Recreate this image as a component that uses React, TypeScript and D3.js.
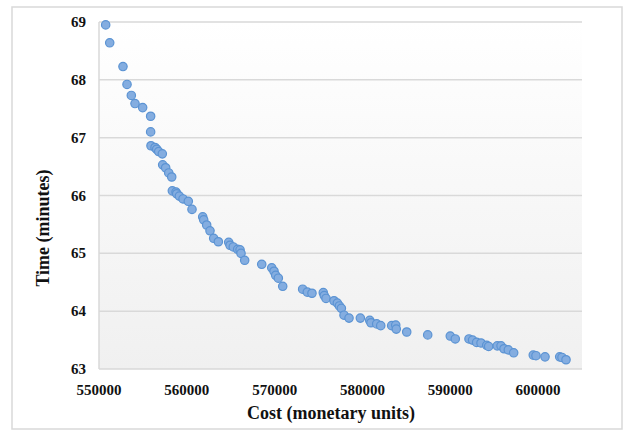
import * as d3 from 'd3';

// cost (monetary units) and time (minutes) for each solution
const costs = [
  550760, 551220, 552730, 553190, 553680, 554100, 554970, 555880, 555880, 555920,
  556380, 556570, 556800, 557210, 557250, 557590, 557940, 558280, 558350, 558770,
  558850, 559150, 559570, 560170, 560590, 561810, 561920, 562260, 562640, 563060,
  563590, 564770, 564920, 565290, 565790, 566060, 566170, 566590, 568530, 569670,
  569930, 570120, 570420, 570920, 573190, 573720, 574250, 575540, 575650, 575850,
  576760, 577140, 577370, 577600, 577900, 578470, 579760, 580830, 580970, 581620,
  582080, 583330, 583790, 583850, 585040, 587430, 590000, 590570, 592130, 592540,
  593000, 593500, 594150, 594370, 595350, 595780, 596120, 596610, 597220, 599450,
  599760, 600790, 602460, 602720, 603180,
];
const times = [
  68.95, 68.64, 68.23, 67.92, 67.73, 67.59, 67.52, 67.37, 67.1, 66.86,
  66.83, 66.8, 66.76, 66.72, 66.53, 66.48, 66.39, 66.32, 66.08, 66.06,
  66.03, 65.99, 65.94, 65.9, 65.76, 65.63, 65.58, 65.49, 65.39, 65.26,
  65.2, 65.19, 65.14, 65.11, 65.07, 65.06, 65.0, 64.88, 64.81, 64.75,
  64.69, 64.62, 64.57, 64.43, 64.38, 64.33, 64.31, 64.32, 64.27, 64.22,
  64.18, 64.14, 64.09, 64.05, 63.93, 63.88, 63.88, 63.84, 63.8, 63.78,
  63.75, 63.75, 63.76, 63.69, 63.64, 63.59, 63.57, 63.52, 63.52, 63.5,
  63.46, 63.45, 63.41, 63.39, 63.4, 63.4, 63.35, 63.33, 63.28, 63.24,
  63.23, 63.21, 63.21, 63.2, 63.16,
];
const xTicks = [550000, 560000, 570000, 580000, 590000, 600000];
const yTicks = [63, 64, 65, 66, 67, 68, 69];

const W = 625;
const H = 430;
const left = 99;
const right = 582;
const top = 22;
const bottom = 369;
const font = '"Liberation Serif", "Times New Roman", serif';

export default function App() {
  const x = d3.scaleLinear().domain([550000, 605000]).range([left, right]);
  const y = d3.scaleLinear().domain([63, 69]).range([bottom, top]);
  const points = costs.map((c, i) => ({ c, t: times[i] }));

  return (
    <svg
      width={W}
      height={H}
      style={{ position: 'absolute', left: 0, top: 0, background: '#fff' }}
    >
      <defs>
        <linearGradient id='plotBg' x1='0' y1='0' x2='0' y2='1'>
          <stop offset='0' stopColor='#ffffff' />
          <stop offset='1' stopColor='#f0f0f0' />
        </linearGradient>
      </defs>
      <rect x={12} y={7} width={610} height={422} fill='#fff' stroke='#d9d9d9' strokeWidth={1.5} />
      <rect x={left} y={top} width={right - left} height={bottom - top} fill='url(#plotBg)' />

      {yTicks.map((t) => (
        <g key={t}>
          <line x1={left} x2={right} y1={y(t)} y2={y(t)} stroke='#d9d9d9' strokeWidth={1.5} />
          <text
            x={86}
            y={y(t) + 5}
            textAnchor='end'
            fontFamily={font}
            fontWeight='bold'
            fontSize={15}
            fill='#111'
          >
            {t}
          </text>
        </g>
      ))}
      <line x1={left} x2={left} y1={top} y2={bottom} stroke='#d9d9d9' strokeWidth={1.5} />

      {xTicks.map((t) => (
        <text
          key={t}
          x={x(t)}
          y={395}
          textAnchor='middle'
          fontFamily={font}
          fontWeight='bold'
          fontSize={15}
          fill='#111'
        >
          {t}
        </text>
      ))}

      {points.map((p, i) => (
        <circle
          key={i}
          cx={x(p.c)}
          cy={y(p.t)}
          r={4.2}
          fill='#84ade0'
          stroke='#5b93d3'
          strokeWidth={1.2}
        />
      ))}

      <text
        x={331}
        y={419}
        textAnchor='middle'
        fontFamily={font}
        fontWeight='bold'
        fontSize={18}
        fill='#111'
      >
        Cost (monetary units)
      </text>
      <text
        transform={`translate(49, ${228}) rotate(-90)`}
        textAnchor='middle'
        fontFamily={font}
        fontWeight='bold'
        fontSize={18}
        fill='#111'
      >
        Time (minutes)
      </text>
    </svg>
  );
}
